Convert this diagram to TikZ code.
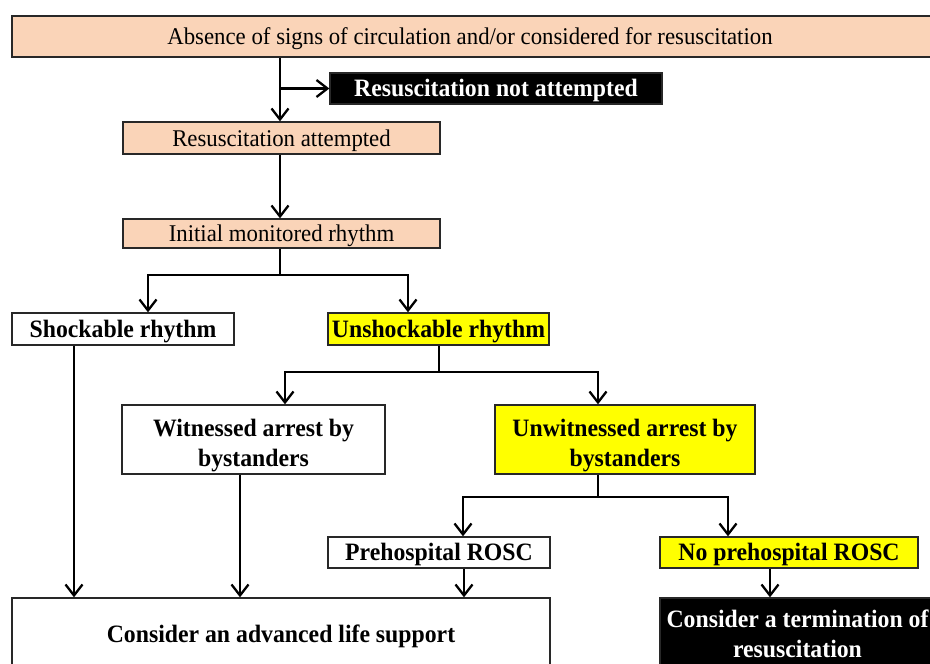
\documentclass[tikz,border=0pt]{standalone}
\usepackage{fontspec}
\setmainfont{Liberation Serif}[FakeStretch=0.95]
\usetikzlibrary{arrows.meta}
\definecolor{peach}{RGB}{250,212,184}
\definecolor{yel}{RGB}{255,255,0}
\definecolor{edge}{RGB}{40,40,40}
\newcommand{\firstline}{\rule{0pt}{30pt}}
\begin{document}
\begin{tikzpicture}[x=1pt,y=-1pt,
  box/.style={draw=edge, line width=1.3pt, inner sep=0pt, align=center, font=\fontsize{24}{30}\selectfont},
  one/.style={text height=16pt, text depth=0pt},
  peachbox/.style={box, one, fill=peach},
  whitebox/.style={box, fill=white, font=\fontsize{25}{30}\selectfont\bfseries},
  yelbox/.style={box, fill=yel, font=\fontsize{25}{30}\selectfont\bfseries},
  blackbox/.style={box, fill=black, text=white, font=\fontsize{25}{30}\selectfont\bfseries},
  ln/.style={line width=2.3pt, draw=black},
  arr/.style={ln, -{Straight Barb[length=11pt,width=17pt,line width=2.3pt]}}
]
\useasboundingbox (0,0) rectangle (930,664);
\clip (0,0) rectangle (930,664);
\fill[white] (0,0) rectangle (930,664);

\node[peachbox, minimum width=930pt, minimum height=41pt] (top) at (477,36.5) {Absence of signs of circulation and/or considered for resuscitation\hspace*{14pt}};
\node[blackbox, one, minimum width=332pt, minimum height=31pt] (notatt) at (496,88.5) {Resuscitation not attempted};
\node[peachbox, minimum width=317pt, minimum height=32pt] (ra) at (281.5,138) {Resuscitation attempted};
\node[peachbox, minimum width=317pt, minimum height=29pt] (im) at (281.5,233.5) {Initial monitored rhythm};
\node[whitebox, one, minimum width=222pt, minimum height=32pt] (shock) at (123,329) {Shockable rhythm};
\node[yelbox, one, minimum width=221pt, minimum height=32pt] (unshock) at (438.5,329) {Unshockable rhythm};
\node[whitebox, minimum width=263pt, minimum height=69pt] (wit) at (253.5,439.5) {\firstline Witnessed arrest by\\bystanders};
\node[yelbox, minimum width=260pt, minimum height=69pt] (unwit) at (625,439.5) {\firstline Unwitnessed arrest by\\bystanders};
\node[whitebox, one, minimum width=222pt, minimum height=31pt] (pre) at (439,552.5) {Prehospital ROSC};
\node[yelbox, one, minimum width=258pt, minimum height=31pt] (nopre) at (789,552.5) {No prehospital ROSC};
\node[whitebox, one, minimum width=538pt, minimum height=72pt] (als) at (281,634) {Consider an advanced life support};
\node[blackbox, minimum width=275pt, minimum height=72pt] (term) at (797.5,634) {Consider a termination of\\resuscitation};

% junction coordinates
\coordinate (j1) at (280,88.5);
\coordinate (j2) at (280,275);
\coordinate (j3) at (439,372);
\coordinate (j4) at (598,497);
\coordinate (sa) at (74,0);
\coordinate (wa) at (240,0);
\coordinate (pa) at (464,0);
\coordinate (na) at (770,0);

\draw[arr] (top.south -| j1) -- (ra.north -| j1);
\draw[arr] (j1) -- (notatt.west);
\draw[arr] (ra.south -| j1) -- (im.north -| j1);
\draw[ln] (im.south -| j2) -- (j2);
\draw[arr] (j2) -| ([xshift=25pt]shock.north);
\draw[arr] (j2) -| ([xshift=-30.5pt]unshock.north);
\draw[ln] (unshock.south -| j3) -- (j3);
\draw[arr] (j3) -| ([xshift=31.5pt]wit.north);
\draw[arr] (j3) -| ([xshift=-27pt]unwit.north);
\draw[ln] (unwit.south -| j4) -- (j4);
\draw[arr] (j4) -| ([xshift=24pt]pre.north);
\draw[arr] (j4) -| ([xshift=-61pt]nopre.north);
\draw[arr] (nopre.south -| na) -- (term.north -| na);
\draw[arr] (shock.south -| sa) -- (als.north -| sa);
\draw[arr] (wit.south -| wa) -- (als.north -| wa);
\draw[arr] (pre.south -| pa) -- (als.north -| pa);
\end{tikzpicture}
\end{document}
